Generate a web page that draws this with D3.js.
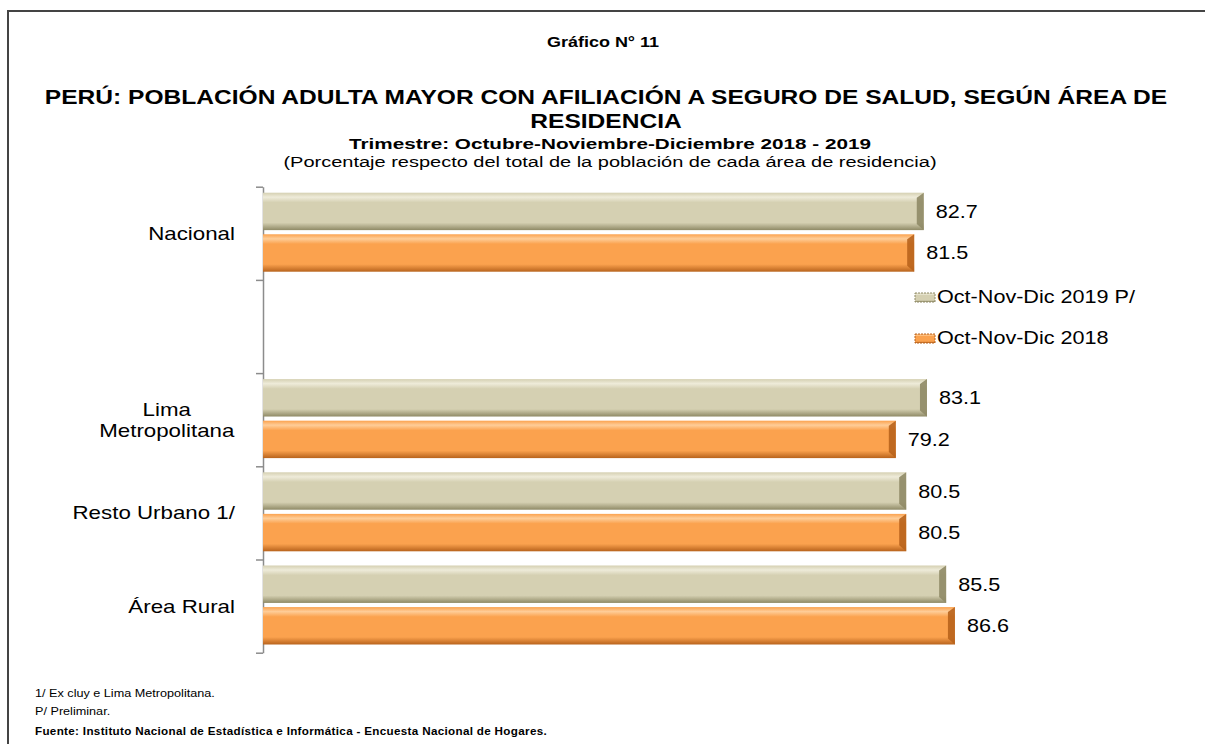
<!DOCTYPE html>
<html>
<head>
<meta charset="utf-8">
<script src="https://cdn.jsdelivr.net/npm/d3@7"></script>
<style>
  body { margin: 0; background: #fff; }
  text { font-family: "Liberation Sans", Arial, sans-serif; }
</style>
</head>
<body>
<script>
let width = 1205, height = 744;

// data
const categories = ["Nacional", "", "Lima\nMetropolitana", "Resto Urbano 1/", "Área Rural"];
const seriesNames = ["Oct-Nov-Dic 2019 P/", "Oct-Nov-Dic 2018"];
const values2019 = [82.7, null, 83.1, 80.5, 85.5];
const values2018 = [81.5, null, 79.2, 80.5, 86.6];
const footnotes = ["1/ Ex cluy e Lima Metropolitana.", "P/ Preliminar."];
const source = "Fuente: Instituto Nacional de Estadística e Informática - Encuesta Nacional de Hogares.";

let svg = d3.select("body").append("svg")
    .attr("width", width)
    .attr("height", height);

// the original text is drawn wide, so put it in a group scaled horizontally
function wideText(parent, x, y, k) {
    return parent.append("g")
        .attr("transform", `translate(${x},${y}) scale(${k},1)`)
        .append("text");
}

// gradients for the bevelled bars
let defs = svg.append("defs");
let palettes = [
    {id: "g2019", light: "#EEEBD9", mid: "#D5D0B2", dark: "#8F8A66"},
    {id: "g2018", light: "#FECD98", mid: "#FBA24E", dark: "#B8631C"}
];
palettes.forEach(p => {
    let g = defs.append("linearGradient").attr("id", p.id)
        .attr("x1", 0).attr("y1", 0).attr("x2", 0).attr("y2", 1);
    g.append("stop").attr("offset", "0%").attr("stop-color", p.mid);
    g.append("stop").attr("offset", "12%").attr("stop-color", p.light);
    g.append("stop").attr("offset", "26%").attr("stop-color", p.mid);
    g.append("stop").attr("offset", "80%").attr("stop-color", p.mid);
    g.append("stop").attr("offset", "100%").attr("stop-color", p.dark);
});

// frame
svg.append("path")
    .attr("d", "M8,760 L8,11 L1215,11")
    .attr("fill", "none")
    .attr("stroke", "#444")
    .attr("stroke-width", 2);

// titles
let titles = [
    {t: "Gráfico N° 11", y: 47, size: 15, w: "bold", k: 1.2, cx: 603},
    {t: "PERÚ: POBLACIÓN ADULTA MAYOR CON AFILIACIÓN A SEGURO DE SALUD, SEGÚN ÁREA DE", y: 104, size: 21, w: "bold", k: 1.17, cx: 606},
    {t: "RESIDENCIA", y: 128, size: 21, w: "bold", k: 1.17, cx: 606},
    {t: "Trimestre: Octubre-Noviembre-Diciembre 2018 - 2019", y: 149, size: 15, w: "bold", k: 1.38, cx: 610},
    {t: "(Porcentaje respecto del total de la población de cada área de residencia)", y: 167, size: 15.5, w: "normal", k: 1.29, cx: 610}
];
titles.forEach(d => {
    wideText(svg, d.cx, d.y, d.k)
        .attr("text-anchor", "middle")
        .attr("font-size", d.size)
        .attr("font-weight", d.w)
        .text(d.t);
});

// scales
let x = d3.scaleLinear().domain([0, 100]).range([263, 1062]);
let y = d3.scaleBand().domain(d3.range(categories.length)).range([186.7, 652.7]);
let ySub = d3.scaleBand().domain([0, 1]).range([6, 85]).paddingInner(0.1);
let yEdge = d3.scaleLinear().domain([0, categories.length]).range([186.7, 652.7]);

// axis with ticks at category boundaries
let axis = svg.append("g")
    .attr("transform", "translate(263,0)")
    .call(d3.axisLeft(yEdge).tickValues(d3.range(categories.length + 1)).tickFormat("").tickSize(7).tickSizeOuter(0));
axis.select(".domain").attr("stroke", "#8c8c8c").attr("stroke-width", 1.5);
axis.selectAll(".tick line").attr("stroke", "#8c8c8c").attr("stroke-width", 1.5);

// bars
let rows = [];
categories.forEach((c, i) => {
    if (values2019[i] != null) rows.push({cat: i, s: 0, v: values2019[i]});
    if (values2018[i] != null) rows.push({cat: i, s: 1, v: values2018[i]});
});

let bars = svg.selectAll("g.bar").data(rows).enter().append("g")
    .attr("class", "bar")
    .attr("transform", d => `translate(0,${y(d.cat) + ySub(d.s)})`);

bars.append("rect")
    .attr("x", x(0))
    .attr("y", 0)
    .attr("width", d => x(d.v) - x(0))
    .attr("height", ySub.bandwidth())
    .attr("fill", d => `url(#${palettes[d.s].id})`);

// darker right edge for the bevel
bars.append("path")
    .attr("d", d => {
        let xe = x(d.v), h = ySub.bandwidth();
        return `M${xe - 7},5 L${xe},0 L${xe},${h} L${xe - 7},${h - 6} Z`;
    })
    .attr("fill", d => palettes[d.s].dark)
    .attr("opacity", 0.9);

// value labels
bars.each(function(d) {
    wideText(d3.select(this), x(d.v) + 12, ySub.bandwidth() / 2, 1.2)
        .attr("dy", "0.36em")
        .attr("font-size", 18)
        .text(d.v.toFixed(1));
});

// category labels
let catG = svg.selectAll("g.cat").data(categories).enter().append("g")
    .attr("class", "cat")
    .attr("transform", (d, i) => `translate(0,${y(i) + y.bandwidth() / 2})`);
catG.each(function(d) {
    let lines = d.split("\n").filter(s => s.length);
    if (!lines.length) return;
    let k = 1.24;
    let g = d3.select(this).append("g");
    let t = g.append("text")
        .attr("font-size", 18)
        .attr("text-anchor", "middle");
    lines.forEach((l, j) => {
        t.append("tspan").attr("x", 0)
            .attr("y", (j - (lines.length - 1) / 2) * 21)
            .attr("dy", "0.36em")
            .text(l);
    });
    let w = t.node().getBBox().width * k;
    g.attr("transform", `translate(${235 - w / 2},0) scale(${k},1)`);
});

// legend
let legend = svg.selectAll("g.legend").data(seriesNames).enter().append("g")
    .attr("class", "legend")
    .attr("transform", (d, i) => `translate(915,${297 + i * 41})`);
legend.append("rect")
    .attr("x", 0).attr("y", -4)
    .attr("width", 20).attr("height", 9)
    .attr("fill", (d, i) => `url(#${palettes[i].id})`)
    .attr("stroke", (d, i) => palettes[i].dark)
    .attr("stroke-width", 1)
    .attr("stroke-dasharray", "2,1");
legend.each(function(d) {
    wideText(d3.select(this), 22, 0, 1.2)
        .attr("dy", "0.36em")
        .attr("font-size", 18)
        .text(d);
});

// notes
footnotes.forEach((d, i) => {
    wideText(svg, 35, 697 + i * 18, 1.1)
        .attr("font-size", 11.5)
        .text(d);
});
wideText(svg, 35, 735, 1.06)
    .attr("font-size", 11)
    .attr("font-weight", "bold")
    .attr("letter-spacing", 0.3)
    .text(source);
</script>
</body>
</html>
